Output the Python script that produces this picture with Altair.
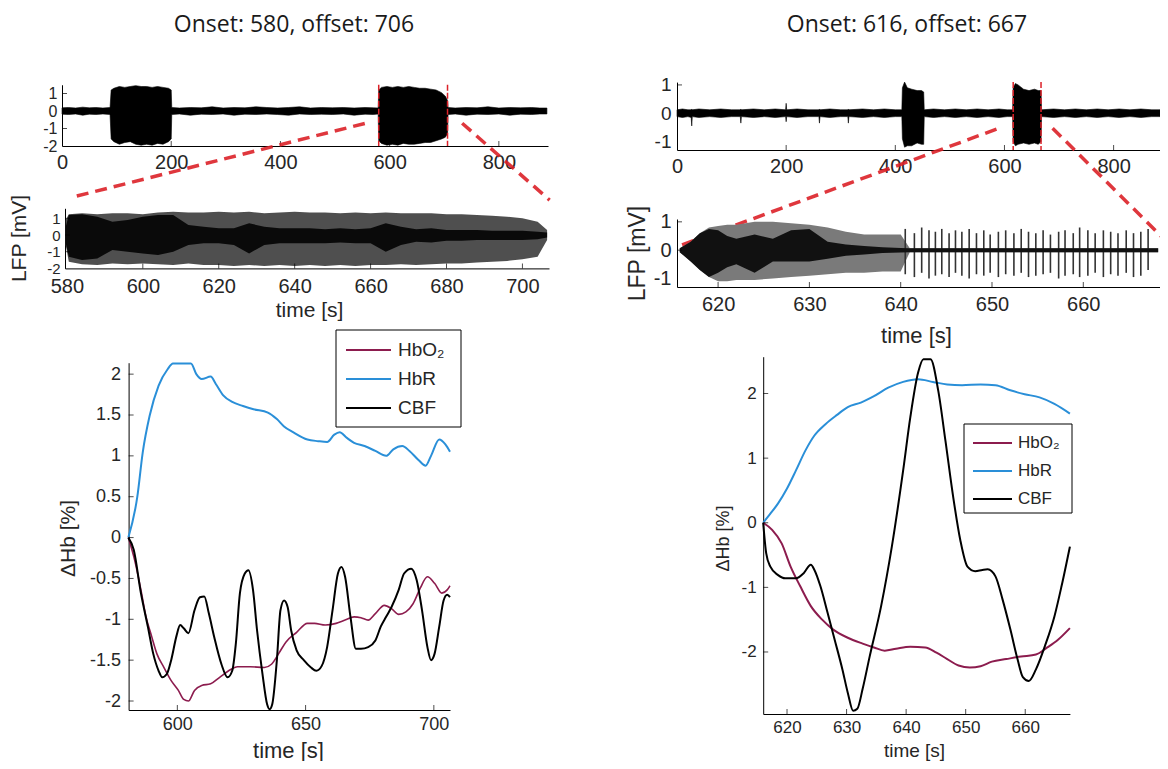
import altair as alt
import pandas as pd

W, H = 1152, 753
FONT = "Liberation Sans"
TFONT = "Open Sans"
INK = "#262626"
RED = "#dc2128"
C_HBO2 = "#8c1c4e"
C_HBR = "#2a8fd8"
C_CBF = "#000000"

# ---------------- titles ----------------
title_left = "Onset: 580, offset: 706"
title_right = "Onset: 616, offset: 667"

# ---------------- top-left: full LFP recording (envelope) ----------------
lfpA_t = [0, 12, 25, 38, 50, 62, 75, 88,
          90, 95, 105, 115, 125, 135, 145, 155, 165, 175, 185, 195, 200,
          201, 215, 235, 255, 275, 295, 315, 335, 355, 375, 395, 415, 435, 455, 475, 495, 515, 535, 555, 570, 579,
          580, 585, 595, 605, 615, 625, 635, 645, 655, 665, 675, 685, 695, 702, 706,
          707, 720, 740, 760, 780, 800, 820, 840, 860, 875, 888]
lfpA_hi = [0.18, 0.2, 0.17, 0.22, 0.18, 0.2, 0.17, 0.2,
           1.2, 1.3, 1.4, 1.35, 1.4, 1.45, 1.4, 1.4, 1.35, 1.4, 1.35, 1.3, 1.2,
           0.2, 0.17, 0.2, 0.18, 0.24, 0.17, 0.2, 0.18, 0.24, 0.2, 0.17, 0.2, 0.24, 0.17, 0.2, 0.18, 0.2, 0.17, 0.2, 0.18, 0.17,
           1.2, 1.35, 1.4, 1.35, 1.4, 1.35, 1.4, 1.35, 1.3, 1.3, 1.25, 1.2, 1.05, 0.85, 0.6,
           0.2, 0.17, 0.2, 0.18, 0.24, 0.17, 0.2, 0.18, 0.2, 0.17, 0.17]
lfpA_lo = [-0.18, -0.2, -0.17, -0.24, -0.18, -0.2, -0.17, -0.2,
           -1.6, -1.75, -1.9, -1.8, -1.75, -1.9, -1.95, -1.9, -1.95, -1.85, -1.9, -1.75, -1.6,
           -0.2, -0.17, -0.24, -0.18, -0.2, -0.17, -0.24, -0.18, -0.2, -0.17, -0.2, -0.24, -0.17, -0.2, -0.18, -0.2, -0.17, -0.24, -0.18, -0.2, -0.17,
           -1.7, -1.85, -1.95, -1.9, -1.95, -1.85, -1.9, -1.9, -1.85, -1.8, -1.8, -1.7, -1.6, -1.5, -1.3,
           -0.2, -0.17, -0.24, -0.18, -0.2, -0.17, -0.24, -0.18, -0.2, -0.17, -0.17]

# ---------------- top-right: full LFP recording (envelope) ----------------
lfpB_t = [0, 10, 20, 26, 27, 28,
          40, 60, 80, 100, 116, 117, 118,
          140, 160, 180, 199, 200, 201,
          220, 240, 260, 261, 262,
          280, 300, 313, 314, 315,
          340, 360, 380, 400, 412,
          413, 417, 422, 430, 440, 448, 452,
          453, 470, 490, 510, 530, 550, 570, 590, 605, 615,
          616, 620, 625, 635, 645, 655, 662, 667,
          668, 690, 710, 730, 750, 770, 790, 810, 830, 850, 870, 885]
lfpB_hi = [0.12, 0.15, 0.12, 0.12, 0.15, 0.12,
           0.15, 0.12, 0.15, 0.12, 0.12, 0.15, 0.12,
           0.15, 0.12, 0.15, 0.12, 0.35, 0.12,
           0.15, 0.12, 0.12, 0.15, 0.12,
           0.15, 0.12, 0.12, 0.15, 0.12,
           0.15, 0.12, 0.15, 0.12, 0.12,
           0.9, 1.1, 0.9, 0.85, 0.8, 0.8, 0.75,
           0.12, 0.15, 0.12, 0.15, 0.12, 0.15, 0.12, 0.15, 0.12, 0.12,
           0.9, 1.05, 1.0, 0.85, 0.8, 0.85, 0.8, 0.8,
           0.12, 0.15, 0.12, 0.15, 0.12, 0.15, 0.12, 0.15, 0.12, 0.15, 0.12, 0.12]
lfpB_lo = [-0.12, -0.15, -0.12, -0.15, -0.45, -0.12,
           -0.15, -0.12, -0.15, -0.12, -0.12, -0.35, -0.12,
           -0.15, -0.12, -0.15, -0.12, -0.3, -0.12,
           -0.15, -0.12, -0.12, -0.35, -0.12,
           -0.15, -0.12, -0.12, -0.35, -0.12,
           -0.15, -0.12, -0.15, -0.12, -0.12,
           -0.9, -1.2, -1.15, -1.15, -1.05, -1.1, -1.1,
           -0.12, -0.15, -0.12, -0.15, -0.12, -0.15, -0.12, -0.15, -0.12, -0.12,
           -1.0, -1.15, -1.1, -1.05, -1.1, -1.05, -1.1, -1.0,
           -0.12, -0.15, -0.12, -0.15, -0.12, -0.15, -0.12, -0.15, -0.12, -0.15, -0.12, -0.12]

# ---------------- middle-left: zoomed LFP 580-706 s ----------------
lfpC_t = [579.7, 580.5, 584, 588, 592, 596, 600, 604, 608, 612, 616, 620, 624, 628, 632, 636, 640,
          644, 648, 652, 656, 660, 664, 668, 672, 676, 680, 684, 688, 692, 696, 700, 704, 706.5]
lfpC_out_hi = [0.9, 1.25, 1.3, 1.25, 1.3, 1.3, 1.25, 1.35, 1.4, 1.35,
               1.35, 1.4, 1.35, 1.4, 1.3, 1.35, 1.4, 1.35, 1.35, 1.3,
               1.35, 1.3, 1.35, 1.3, 1.3, 1.3, 1.25, 1.25, 1.2, 1.15,
               1.1, 1.0, 0.8, 0.3]
lfpC_out_lo = [-0.6, -1.6, -1.75, -1.8, -1.7, -1.75, -1.7, -1.75, -1.8, -1.7,
               -1.8, -1.8, -1.85, -1.8, -1.85, -1.8, -1.85, -1.8, -1.85, -1.8,
               -1.85, -1.8, -1.8, -1.75, -1.8, -1.75, -1.7, -1.7, -1.65, -1.6,
               -1.55, -1.45, -1.3, -0.3]
lfpC_in_hi = [0.5, 1.2, 1.25, 1.1, 0.8, 0.9, 1.1, 1.2, 1.2, 0.6,
              0.5, 0.4, 0.4, 0.7, 0.5, 0.4, 0.4, 0.4, 0.35, 0.4,
              0.35, 0.4, 0.7, 0.5, 0.35, 0.4, 0.3, 0.3, 0.3, 0.25,
              0.25, 0.25, 0.2, 0.15]
lfpC_in_lo = [-0.5, -1.3, -1.5, -1.4, -0.9, -1.0, -1.1, -1.2, -1.0, -0.6,
              -0.5, -0.5, -0.6, -1.1, -0.6, -0.5, -0.5, -0.5, -0.5, -0.45,
              -0.5, -0.5, -1.0, -0.6, -0.4, -0.45, -0.35, -0.35, -0.3, -0.3,
              -0.3, -0.3, -0.25, -0.15]

# ---------------- middle-right: zoomed LFP 616-667 s ----------------
lfpD_t = [615.8, 617, 618, 619, 620, 621, 622, 624, 626, 628, 630, 632, 634, 636, 638, 640, 641, 668.2]
lfpD_out_hi = [0.07, 0.3, 0.6, 0.8, 0.85, 0.9, 0.9, 1.0, 1.0, 0.95, 0.9, 0.8, 0.65, 0.55, 0.55, 0.55, 0.07, 0.07]
lfpD_out_lo = [-0.07, -0.4, -0.7, -0.95, -1.1, -1.1, -1.05, -1.05, -1.0, -0.95, -0.9, -0.85, -0.8, -0.8, -0.75, -0.75, -0.07, -0.07]
lfpD_in_hi = [0.07, 0.3, 0.6, 0.75, 0.7, 0.5, 0.4, 0.55, 0.4, 0.7, 0.75, 0.3, 0.2, 0.15, 0.1, 0.08, 0.07, 0.07]
lfpD_in_lo = [-0.07, -0.4, -0.7, -0.95, -0.8, -0.6, -0.5, -0.8, -0.4, -0.4, -0.4, -0.3, -0.2, -0.15, -0.1, -0.08, -0.07, -0.07]
spk_t = [640.5, 641.5, 642.3, 643.1, 643.8, 644.5, 645.3, 646, 646.7, 647.5, 648.3, 649.1, 649.8,
         650.7, 651.5, 652.4, 653.2, 654, 654.8, 655.6, 656.4, 657.3, 658, 658.9, 659.6,
         660.5, 661.3, 662.2, 663, 663.8, 664.7, 665.5, 666.3, 667.1]
spk_hi = [0.75, 0.6, 0.8, 0.7, 0.65, 0.75, 0.6, 0.7, 0.65, 0.75, 0.6, 0.7, 0.55,
          0.65, 0.7, 0.6, 0.75, 0.65, 0.6, 0.7, 0.55, 0.65, 0.7, 0.6, 0.8,
          0.7, 0.6, 0.7, 0.65, 0.6, 0.7, 0.6, 0.65, 0.75]
spk_lo = [-0.85, -0.95, -0.8, -1.0, -0.9, -0.85, -0.95, -0.8, -0.9, -1.0, -0.85, -0.9, -0.8,
          -0.95, -0.85, -0.9, -0.8, -0.95, -0.9, -0.85, -0.8, -1.0, -0.9, -0.85, -0.95,
          -0.9, -0.8, -0.95, -0.85, -0.9, -0.8, -0.95, -0.9, -0.7]

# ---------------- bottom-left: hemodynamics 580-706 s ----------------
bl_hbr_t = [580.9, 584.4, 586.5, 589.2, 592.7, 596.2, 598.3, 605.3, 607.4, 609.5, 613, 615, 617.9, 621.4,
            625.6, 629.7, 635.3, 638.8, 641.6, 645.1, 650.7, 654.9, 658.4, 661.2, 663.3, 666.1, 668.9,
            673, 677.2, 681.4, 684.2, 687.7, 690.5, 694, 696.8, 698.9, 702.1, 704.5, 706.3]
bl_hbr_v = [0, 0.5, 1.04, 1.49, 1.86, 2.06, 2.13, 2.13, 2.0, 1.94, 1.97, 1.88, 1.74, 1.66,
            1.61, 1.57, 1.53, 1.45, 1.36, 1.29, 1.2, 1.18, 1.17, 1.26, 1.29, 1.22, 1.16,
            1.12, 1.06, 1.0, 1.08, 1.12, 1.06, 0.95, 0.88, 1.0, 1.2, 1.14, 1.05]
bl_hbo_t = [580.9, 583.7, 585.8, 587.8, 589.9, 592, 594.8, 597.6, 600.4, 602.5, 604.3, 606.7, 609.5,
            613, 616.5, 620, 623.5, 628.4, 633.9, 636.7, 639.5, 642.3, 646.5, 650.7, 653.5, 657.7,
            661.9, 665.4, 668.9, 671.6, 674.4, 677.2, 680.7, 683.5, 686.3, 689.1, 691.9, 694.7,
            697.5, 700.3, 703.1, 705.2, 706.3]
bl_hbo_v = [0, -0.32, -0.64, -0.97, -1.2, -1.42, -1.59, -1.75, -1.87, -1.98, -2.0, -1.87, -1.81,
            -1.79, -1.71, -1.63, -1.58, -1.58, -1.59, -1.55, -1.42, -1.28, -1.16, -1.05, -1.05, -1.07,
            -1.05, -1.01, -0.97, -0.98, -1.01, -0.93, -0.83, -0.87, -0.94, -0.91, -0.81, -0.62,
            -0.48, -0.56, -0.68, -0.64, -0.59]
bl_cbf_t = [580.9, 583, 585.8, 588.5, 590.6, 592.7, 594.1, 595.9, 597.6, 599.7, 601.1, 602.5, 604.3,
            606.7, 608.8, 610.5, 612.3, 614.4, 617.2, 619.6, 621.4, 622.8, 624.4, 626.3, 627.7, 629.5,
            631.1, 633.2, 635, 636, 637, 638.8, 640.2, 641.6, 643, 644.4, 646.5, 649.3, 652.1, 654.2,
            656.3, 658.4, 660.5, 662.6, 664, 665.4, 667.5, 669.6, 671.6, 674.4, 677.2, 679.3, 681.4,
            683.5, 686.3, 688.4, 691.2, 693.3, 695.4, 697.5, 698.9, 700.3, 702.1, 703.8, 705.2, 706.3]
bl_cbf_v = [0, -0.15, -0.68, -1.09, -1.42, -1.63, -1.71, -1.67, -1.5, -1.2, -1.07, -1.11, -1.17,
            -0.89, -0.73, -0.72, -0.93, -1.22, -1.55, -1.71, -1.63, -1.3, -0.68, -0.44, -0.4, -0.64,
            -1.14, -1.67, -2.04, -2.1, -2.04, -1.5, -0.89, -0.77, -0.85, -1.14, -1.38, -1.5, -1.59, -1.63,
            -1.57, -1.34, -0.89, -0.44, -0.36, -0.48, -0.97, -1.36, -1.36, -1.34, -1.26, -1.09, -0.97,
            -0.85, -0.64, -0.44, -0.38, -0.52, -0.89, -1.34, -1.5, -1.42, -1.09, -0.77, -0.7, -0.73]

# ---------------- bottom-right: hemodynamics 616-667 s ----------------
br_hbr_t = [616, 617.2, 618.5, 620, 621.5, 623.1, 624.6, 626.5, 628.4, 630.2, 632.4, 634.6, 637,
            639.5, 642, 644.5, 646.9, 649.4, 652.5, 655, 657.5, 659.9, 662.4, 664.9, 667.5]
br_hbr_v = [0, 0.14, 0.3, 0.53, 0.81, 1.12, 1.35, 1.53, 1.67, 1.79, 1.86, 1.96, 2.09,
            2.18, 2.22, 2.18, 2.14, 2.13, 2.14, 2.13, 2.05, 1.99, 1.94, 1.84, 1.69]
br_hbo_t = [616, 617.5, 619.1, 620.6, 622.2, 624, 625.9, 627.7, 630.2, 632.7, 634.6, 636.4, 638.3,
            640.7, 643.2, 645.1, 646.9, 648.8, 650.7, 652.5, 654.4, 656.8, 659.3, 661.8, 663.7, 665.5, 667.5]
br_hbo_v = [0, -0.11, -0.32, -0.68, -0.98, -1.29, -1.5, -1.65, -1.78, -1.87, -1.93, -1.98, -1.95,
            -1.92, -1.93, -2.01, -2.11, -2.21, -2.24, -2.22, -2.15, -2.11, -2.07, -2.04, -1.93, -1.81, -1.63]
br_cbf_t = [616, 616.5, 617.2, 618.5, 619.7, 621.5, 622.8, 624, 624.6, 625.6,
            626.8, 628, 629.3, 630.2, 631.1, 631.8, 632.7, 633.9, 635.8, 637.6,
            639.5, 640.7, 642, 642.9, 644.1, 645.4, 646.6, 647.9, 649.1, 650.3,
            651.6, 652.8, 653.7, 655, 656.2, 657.5, 658.7, 659.6, 660.6, 661.8,
            663.3, 664.9, 666.1, 667.5]
br_cbf_v = [0, -0.47, -0.68, -0.81, -0.86, -0.86, -0.78, -0.65, -0.73, -0.98,
            -1.39, -1.81, -2.27, -2.63, -2.91, -2.88, -2.57, -2.06, -1.29, -0.37,
            0.81, 1.63, 2.32, 2.53, 2.53, 2.04, 1.27, 0.4, -0.27, -0.68,
            -0.75, -0.73, -0.72, -0.83, -1.19, -1.65, -2.11, -2.39, -2.45, -2.27,
            -1.91, -1.45, -0.98, -0.37]

# ---------------- legend ----------------
series_names = ["HbO2", "HbR", "CBF"]
series_labels = ["HbO\u2082", "HbR", "CBF"]
series_colors = [C_HBO2, C_HBR, C_CBF]

# ---------------- onset / offset markers and zoom connectors ----------------
markA_t = [580, 706]
markB_t = [616, 667]
# connector end points, in the data units of each top panel
connA_seg = ["a", "a", "b", "b"]
connA_t = [559.7, 27.1, 732.8, 893.0]
connA_v = [-0.67, -4.86, -0.70, -5.09]
connB_seg = ["a", "a", "b", "b"]
connB_t = [590.1, 9.3, 688.2, 912.4]
connB_v = [-0.53, -4.65, -0.53, -4.83]

# ---------------- tick values ----------------
tA_x = [0, 200, 400, 600, 800]
tA_y = [-2, -1, 0, 1]
tB_y = [-1, 0, 1]
tC_x = [580, 600, 620, 640, 660, 680, 700]
tD_x = [620, 630, 640, 650, 660]
tE_x = [600, 650, 700]
tE_y = [-2, -1.5, -1, -0.5, 0, 0.5, 1, 1.5, 2]
tF_y = [-2, -1, 0, 1, 2]


# =====================================================================
def sc(dom, rng):
    return alt.Scale(domain=dom, range=rng, nice=False, zero=False)


def xaxis(y_px, values, fs, lpad, tx=None, ty=None, tfs=None):
    kw = dict(orient="bottom", offset=y_px - H, values=values, labelFontSize=fs,
              labelPadding=lpad, labelFont=FONT, labelColor=INK,
              labelExpr="'' + datum.value", labelOverlap=False, labelFlush=False,
              ticks=False, grid=False, domainColor="black", domainWidth=1)
    if tx is not None:
        kw.update(titleX=tx, titleY=ty, titleFontSize=tfs, titleFont=FONT,
                  titleFontWeight="normal", titleColor=INK, titleAlign="center",
                  titleBaseline="middle", titleAngle=0)
    return alt.Axis(**kw)


def yaxis(x_px, values, fs, lpad, tx=None, ty=None, tfs=None):
    kw = dict(orient="left", offset=-x_px, values=values, labelFontSize=fs,
              labelPadding=lpad, labelFont=FONT, labelColor=INK,
              labelExpr="'' + datum.value", labelOverlap=False, labelFlush=False,
              ticks=False, grid=False, domainColor="black", domainWidth=1)
    if tx is not None:
        kw.update(titleX=tx, titleY=ty, titleFontSize=tfs, titleFont=FONT,
                  titleFontWeight="normal", titleColor=INK, titleAlign="center",
                  titleBaseline="middle", titleAngle=270)
    return alt.Axis(**kw)


def ticks_layer(X, Y, xvals, yvals, xmin, ymin):
    dx = pd.DataFrame({"t": xvals, "v": [ymin] * len(xvals)})
    dy = pd.DataFrame({"t": [xmin] * len(yvals), "v": yvals})
    a = alt.Chart(dx).mark_tick(orient="vertical", size=5, thickness=1, color="black",
                                yOffset=-2.5).encode(x=X, y=Y)
    b = alt.Chart(dy).mark_tick(orient="horizontal", size=5, thickness=1, color="black",
                                xOffset=2.5).encode(x=X, y=Y)
    return [a, b]


def env_df(t, hi, lo):
    return pd.DataFrame({"t": t, "v": hi, "v2": lo})


# ---------------- top-left ----------------
XA = alt.X("t:Q", scale=sc([0, 890], [54, 540]), axis=xaxis(138, tA_x, 20, 6), title=None)
YA = alt.Y("v:Q", scale=sc([-2, 1.5], [138, 76.75]), axis=yaxis(54, tA_y, 16, 5), title=None)
pA = [
    alt.Chart(env_df(lfpA_t, lfpA_hi, lfpA_lo)).mark_area(color="black", stroke="black", strokeWidth=0.6)
    .encode(x=XA, y=YA, y2="v2:Q"),
    alt.Chart(pd.DataFrame({"t": markA_t, "v": [1.5, 1.5], "v2": [-2, -2]}))
    .mark_rule(color=RED, strokeWidth=1.5, strokeDash=[6, 2]).encode(x=XA, y=YA, y2="v2:Q"),
] + ticks_layer(XA, YA, tA_x[1:], tA_y[1:], 0, -2) + [
    alt.Chart(pd.DataFrame({"seg": connA_seg, "t": connA_t, "v": connA_v}))
    .mark_line(color=RED, strokeWidth=3.5, strokeDash=[12, 7], opacity=0.9)
    .encode(x=XA, y=YA, detail="seg:N"),
]
panelA = alt.layer(*pA)

# ---------------- top-right ----------------
XB = alt.X("t:Q", scale=sc([0, 885], [669, 1152]), axis=xaxis(142, tA_x, 20, 6), title=None)
YB = alt.Y("v:Q", scale=sc([-1.3, 1.1], [142, 74.1]), axis=yaxis(669, tB_y, 19, 6), title=None)
pB = [
    alt.Chart(env_df(lfpB_t, lfpB_hi, lfpB_lo)).mark_area(color="black", stroke="black", strokeWidth=0.6)
    .encode(x=XB, y=YB, y2="v2:Q"),
    alt.Chart(pd.DataFrame({"t": markB_t, "v": [1.1, 1.1], "v2": [-1.3, -1.3]}))
    .mark_rule(color=RED, strokeWidth=1.5, strokeDash=[6, 2]).encode(x=XB, y=YB, y2="v2:Q"),
] + ticks_layer(XB, YB, tA_x[1:], tB_y[1:], 0, -1.3) + [
    alt.Chart(pd.DataFrame({"seg": connB_seg, "t": connB_t, "v": connB_v}))
    .mark_line(color=RED, strokeWidth=3.5, strokeDash=[12, 7], opacity=0.9)
    .encode(x=XB, y=YB, detail="seg:N"),
]
panelB = alt.layer(*pB)

# ---------------- middle-left ----------------
XC = alt.X("t:Q", scale=sc([579.5, 707], [57, 541]),
           axis=xaxis(260.4, tC_x, 20, 8, tx=301, ty=42, tfs=21), title="time [s]")
YC = alt.Y("v:Q", scale=sc([-2, 1.6], [260.4, 200.3]),
           axis=yaxis(57, tA_y, 15, 5, tx=-46, ty=230, tfs=21), title="LFP [mV]")
pC = [
    alt.Chart(env_df(lfpC_t, lfpC_out_hi, lfpC_out_lo)).mark_area(color="#4f4f4f")
    .encode(x=XC, y=YC, y2="v2:Q"),
    alt.Chart(env_df(lfpC_t, lfpC_in_hi, lfpC_in_lo)).mark_area(color="#0a0a0a")
    .encode(x=XC, y=YC, y2="v2:Q"),
] + ticks_layer(XC, YC, tC_x[1:], tA_y[1:], 579.5, -2)
panelC = alt.layer(*pC)

# ---------------- middle-right ----------------
XD = alt.X("t:Q", scale=sc([615.5, 668.5], [669, 1152.9]),
           axis=xaxis(279, tD_x, 20, 7, tx=908, ty=48, tfs=22), title="time [s]")
YD = alt.Y("v:Q", scale=sc([-1.3, 1.1], [279, 211]),
           axis=yaxis(669, tB_y, 20, 6, tx=-40, ty=245, tfs=23), title="LFP [mV]")
pD = [
    alt.Chart(env_df(lfpD_t, lfpD_out_hi, lfpD_out_lo)).mark_area(color="#7a7a7a")
    .encode(x=XD, y=YD, y2="v2:Q"),
    alt.Chart(env_df(spk_t, spk_hi, spk_lo)).mark_rule(color="#333333", strokeWidth=1.6)
    .encode(x=XD, y=YD, y2="v2:Q"),
    alt.Chart(env_df(lfpD_t, lfpD_in_hi, lfpD_in_lo)).mark_area(color="#111111")
    .encode(x=XD, y=YD, y2="v2:Q"),
] + ticks_layer(XD, YD, tD_x, tB_y[1:], 615.5, -1.3)
panelD = alt.layer(*pD)

# ---------------- bottom-left ----------------
XE = alt.X("t:Q", scale=sc([581, 706.3], [120.6, 442]),
           axis=xaxis(702, tE_x, 18, 5, tx=280, ty=40, tfs=22), title="time [s]")
YE = alt.Y("v:Q", scale=sc([-2.11, 2.14], [702, 354.7]),
           axis=yaxis(120.6, tE_y, 18, 8, tx=-60, ty=530, tfs=21), title="\u0394Hb [%]")


def hemo(X, Y, t, v, color, width):
    return alt.Chart(pd.DataFrame({"t": t, "v": v})).mark_line(
        color=color, strokeWidth=width, interpolate="monotone").encode(x=X, y=Y)


pE = [
    hemo(XE, YE, bl_hbr_t, bl_hbr_v, C_HBR, 2),
    hemo(XE, YE, bl_hbo_t, bl_hbo_v, C_HBO2, 1.6),
    hemo(XE, YE, bl_cbf_t, bl_cbf_v, C_CBF, 2),
] + ticks_layer(XE, YE, tE_x, tE_y, 581, -2.11)
panelE = alt.layer(*pE)

# ---------------- bottom-right ----------------
XF = alt.X("t:Q", scale=sc([616, 667.5], [755.2, 1061.9]),
           axis=xaxis(706, tD_x, 17, 5, tx=906, ty=36, tfs=19), title="time [s]")
YF = alt.Y("v:Q", scale=sc([-2.96, 2.57], [706, 348.7]),
           axis=yaxis(755.2, tF_y, 17, 7, tx=-40, ty=530, tfs=18), title="\u0394Hb [%]")
pF = [
    hemo(XF, YF, br_hbr_t, br_hbr_v, C_HBR, 2),
    hemo(XF, YF, br_hbo_t, br_hbo_v, C_HBO2, 2),
    hemo(XF, YF, br_cbf_t, br_cbf_v, C_CBF, 2),
] + ticks_layer(XF, YF, tD_x, tF_y, 616, -2.96)
panelF = alt.layer(*pF)

# ---------------- legends ----------------
leg_df = pd.DataFrame({"series": series_names, "label": series_labels})


def legend(box, rows, line_x, text_x, fs):
    b = alt.Chart(pd.DataFrame({"k": [0]})).mark_rect(fill="white", stroke="black", strokeWidth=1).encode(
        x=alt.value(box[0]), x2=alt.value(box[1]), y=alt.value(box[2]), y2=alt.value(box[3]))
    ydef = alt.Y("series:N", scale=alt.Scale(type="point", domain=series_names, range=rows, padding=0),
                 axis=None)
    cdef = alt.Color("series:N", scale=alt.Scale(domain=series_names, range=series_colors), legend=None)
    ln = alt.Chart(leg_df).mark_rule(strokeWidth=2.2).encode(
        x=alt.value(line_x[0]), x2=alt.value(line_x[1]), y=ydef, color=cdef)
    tx = alt.Chart(leg_df).mark_text(align="left", baseline="middle", font=FONT, fontSize=fs,
                                     color=INK).encode(x=alt.value(text_x), y=ydef, text="label:N")
    return alt.layer(b, ln, tx)


legL = legend([328, 453, 322, 419], [342, 400], [338, 383], 390, 19)
legR = legend([956, 1064, 416, 505], [435, 491], [965, 1004], 1010, 17)

# ---------------- titles ----------------
def title_text(txt, x):
    return alt.Chart(pd.DataFrame({"label": [txt]})).mark_text(
        font=TFONT, fontSize=23, color="#1a1a1a", align="center", baseline="middle").encode(
        x=alt.value(x), y=alt.value(17), text="label:N")


chart = alt.layer(
    panelA, panelB, panelC, panelD, panelE, panelF, legL, legR,
    title_text(title_left, 286), title_text(title_right, 899),
).resolve_scale(
    x="independent", y="independent", color="independent"
).resolve_axis(
    x="independent", y="independent"
).properties(
    width=W, height=H, autosize=alt.AutoSizeParams(type="none"), padding=0,
    background="white",
).configure_view(stroke=None)

chart.save("out.html", embed_options={"renderer": "svg", "actions": False})
